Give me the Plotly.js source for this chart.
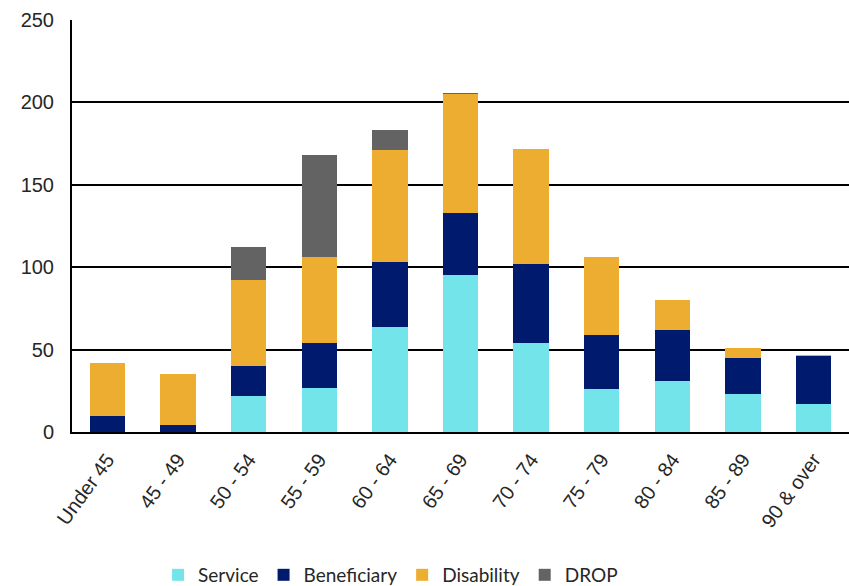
<!DOCTYPE html>
<html>
<head>
<meta charset="utf-8">
<script src="https://cdn.plot.ly/plotly-3.0.1.min.js"></script>
<style>html,body{margin:0;padding:0;background:#fff;}#chart{width:849px;height:586px;}</style>
</head>
<body>
<div id="chart"></div>
<script>
var categories = ["Under 45", "45 - 49", "50 - 54", "55 - 59", "60 - 64", "65 - 69", "70 - 74", "75 - 79", "80 - 84", "85 - 89", "90 & over"];
var service     = [0, 0, 22, 27, 64, 95, 54, 26, 31, 23, 17];
var beneficiary = [10, 4, 18, 27, 39, 38, 48, 33, 31, 22, 29];
var disability  = [32, 31, 52, 52, 68, 72, 70, 47, 18, 6, 1];
var drop        = [0, 0, 20, 62, 12, 1, 0, 0, 0, 0, 0];
var seriesNames = ["Service", "Beneficiary", "Disability", "DROP"];
var seriesColors = ["#72E4EA", "#001A6E", "#EDAD30", "#636363"];
var yTicks = [0, 50, 100, 150, 200, 250];

var seriesData = [service, beneficiary, disability, drop];
var traces = seriesData.map(function (vals, i) {
  return {
    type: "bar",
    name: seriesNames[i],
    x: categories,
    y: vals,
    marker: { color: seriesColors[i], line: { width: 0 } },
    hoverinfo: "x+y+name"
  };
});

var layout = {
  width: 849,
  height: 586,
  barmode: "stack",
  bargap: 0.5,
  margin: { l: 72, r: 0, t: 20, b: 154, autoexpand: false },
  paper_bgcolor: "#ffffff",
  plot_bgcolor: "#ffffff",
  font: { family: "Liberation Sans, Arial, sans-serif", color: "#262626", size: 19 },
  xaxis: {
    type: "category",
    automargin: false,
    tickangle: -54,
    showline: true,
    linecolor: "#000000",
    linewidth: 2,
    showgrid: false,
    ticks: "",
    tickfont: { family: "Liberation Sans, Arial, sans-serif", size: 20, color: "#262626" },
    ticklabelstandoff: 6
  },
  yaxis: {
    automargin: false,
    range: [0, 250],
    tickvals: yTicks,
    ticktext: yTicks.map(String),
    showline: true,
    linecolor: "#000000",
    linewidth: 2,
    showgrid: true,
    gridcolor: "#000000",
    gridwidth: 2,
    zeroline: false,
    ticks: "",
    ticklabelstandoff: 12,
    tickfont: { family: "Liberation Sans, Arial, sans-serif", size: 20, color: "#262626" }
  },
  showlegend: true,
  legend: {
    orientation: "h",
    x: 0.41,
    xanchor: "center",
    y: -0.347,
    yanchor: "middle",
    traceorder: "normal",
    font: { family: "Lato, Liberation Sans Narrow, sans-serif", size: 19, color: "#262626" },
    itemwidth: 30,
    bgcolor: "rgba(0,0,0,0)"
  }
};

Plotly.newPlot("chart", traces, layout, { displayModeBar: false, staticPlot: true });
</script>
</body>
</html>
